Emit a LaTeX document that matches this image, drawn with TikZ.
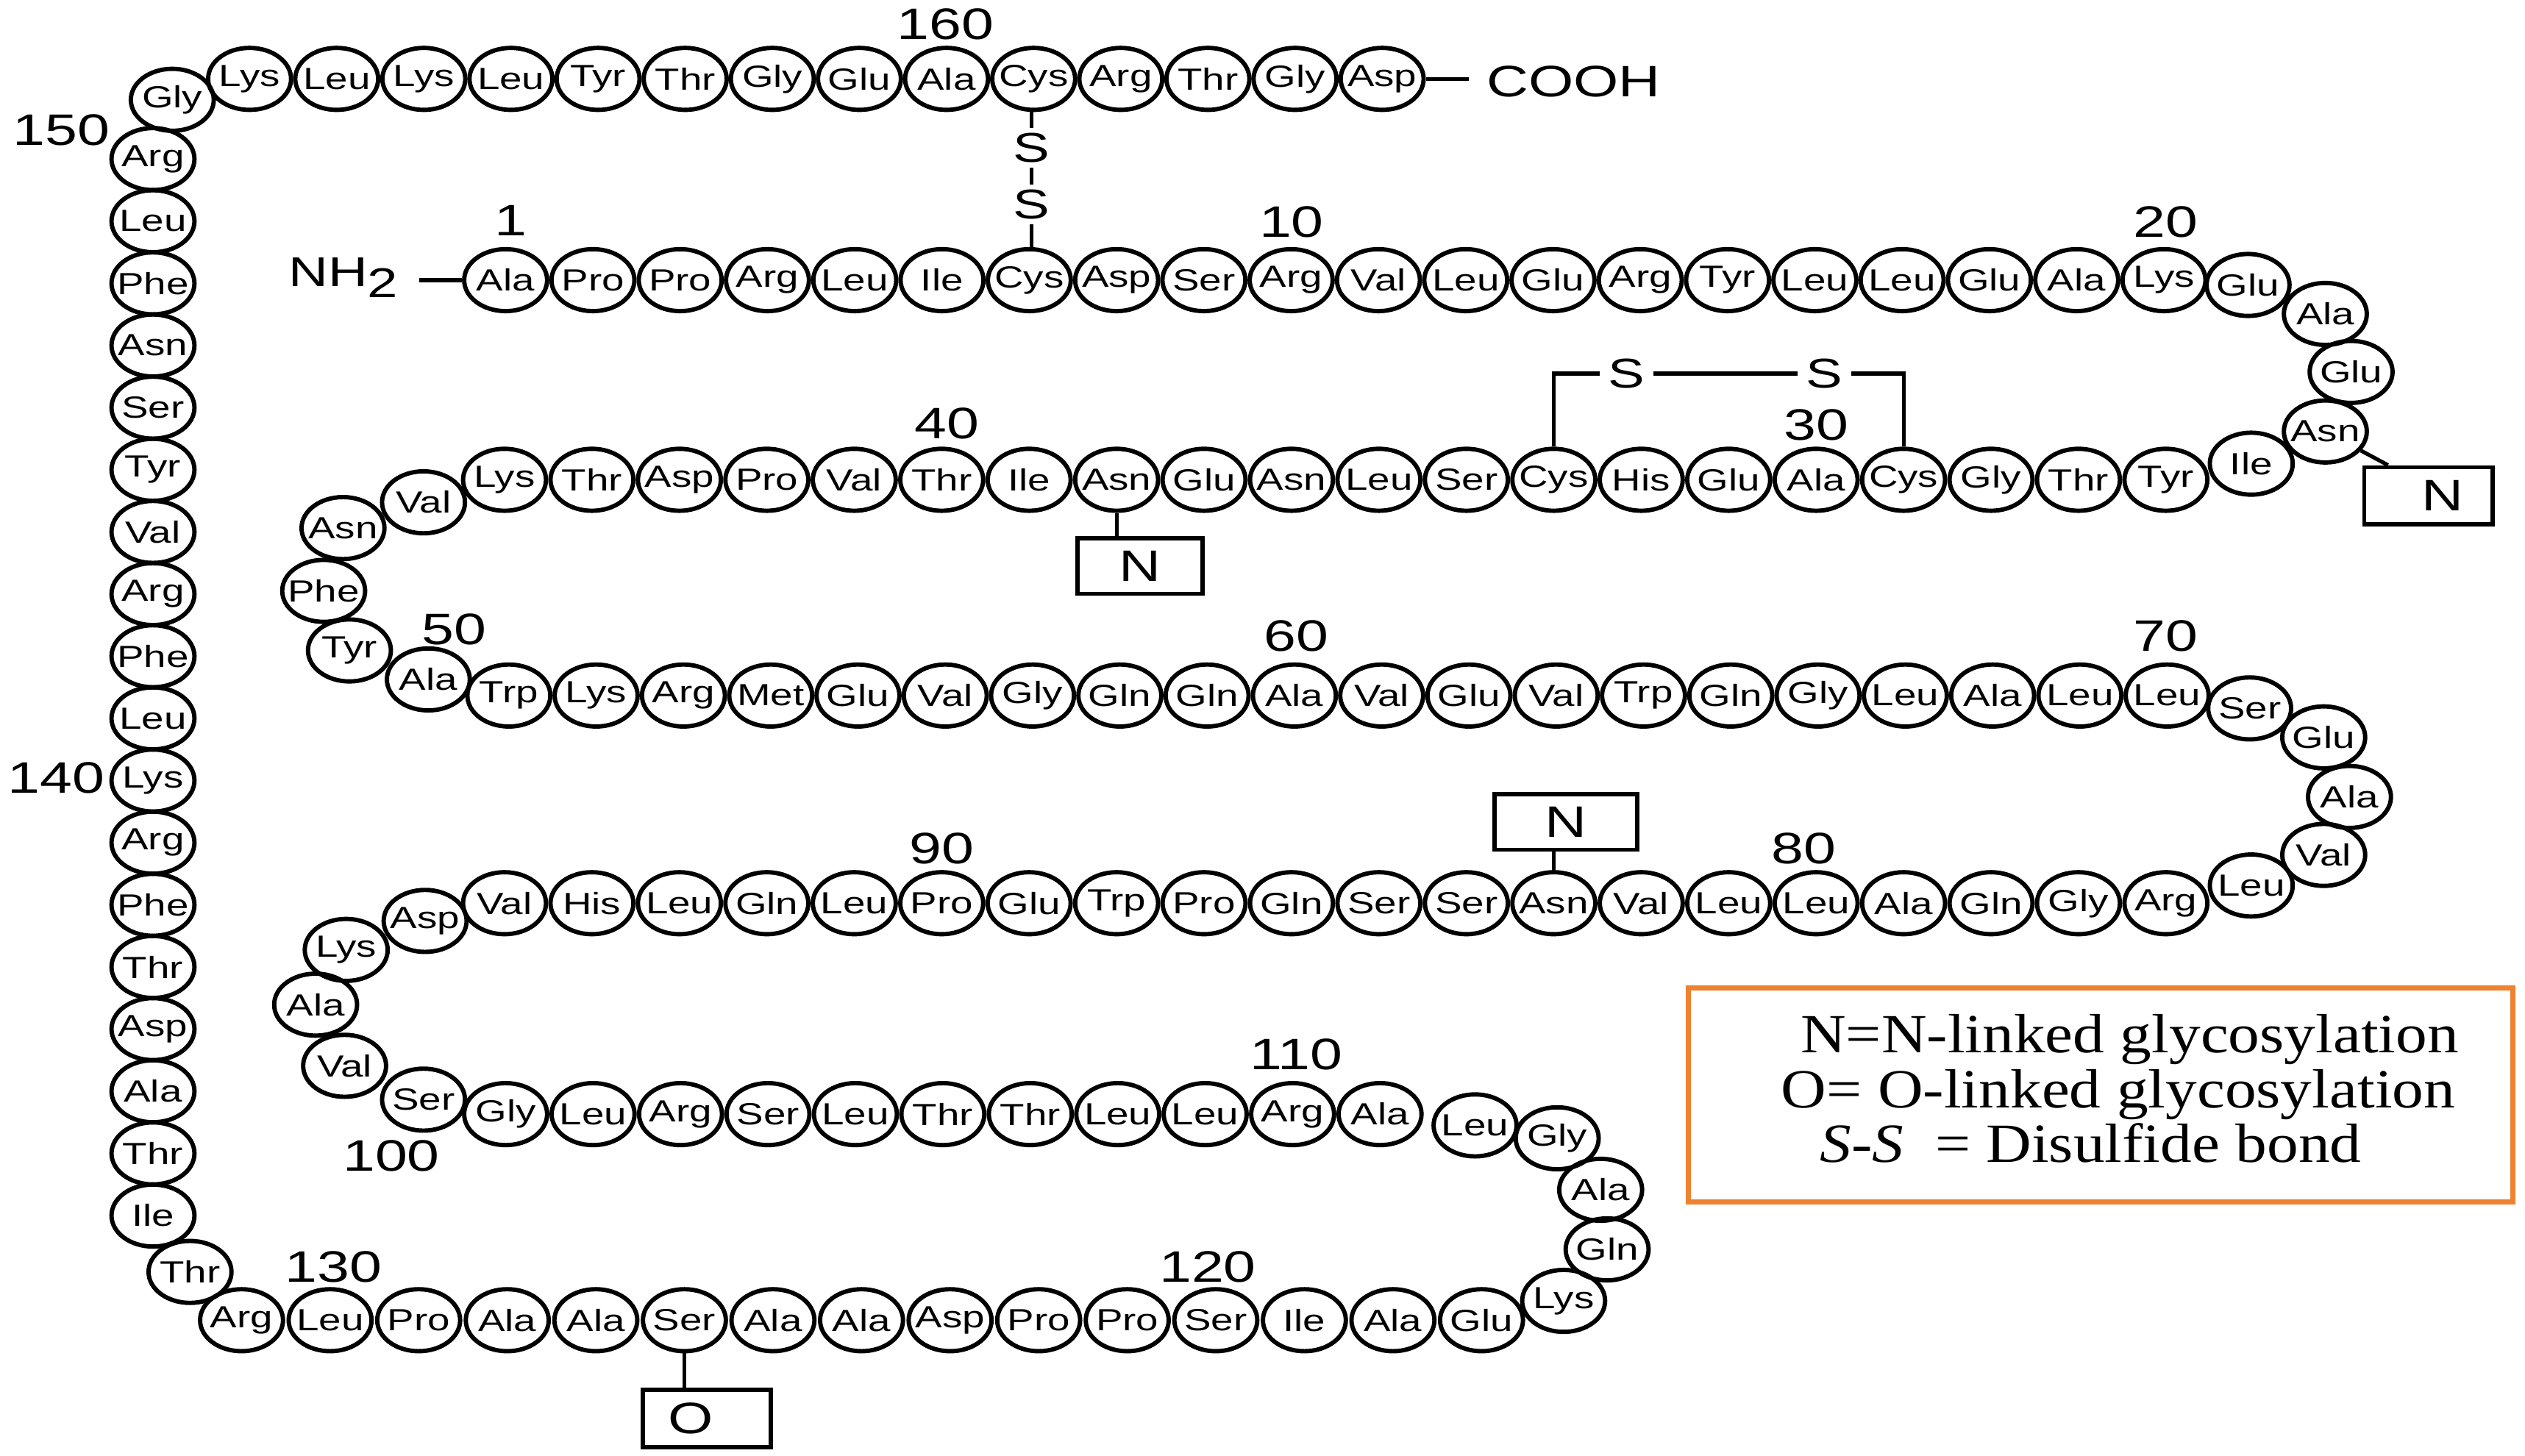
\documentclass[tikz,border=0pt]{standalone}
\usepackage{fontspec}
\usepackage{graphicx}
\setmainfont{Liberation Sans}
\newfontfamily\legserif{Liberation Serif}
\usetikzlibrary{shapes.geometric}
\definecolor{legor}{RGB}{238,130,48}
\newcommand{\sqz}[1]{\scalebox{1}[0.76]{#1}}
\newcommand{\sqleg}[1]{\scalebox{1}[0.88]{#1}}
\newcommand{\aat}[1]{\makebox[0pt]{\sqz{#1}}}
\begin{document}
\begin{tikzpicture}[x=1pt, y=-1pt,
  aa/.style={ellipse, draw, line width=2.7pt, minimum width=51.5pt, minimum height=38.5pt, inner sep=0pt, font=\fontsize{25}{29}\selectfont},
  numlab/.style={inner sep=0pt, font=\fontsize{36}{40}\selectfont},
  sulf/.style={inner xsep=5pt, inner ysep=3pt, font=\fontsize{34}{38}\selectfont},
  gbox/.style={draw, line width=2.6pt, inner sep=0pt, font=\fontsize{36}{40}\selectfont},
  bond/.style={line width=2.4pt},
  legt/.style={inner sep=0pt, font=\legserif\fontsize{39}{44}\selectfont},
  term/.style={inner ysep=0pt, font=\fontsize{34}{38}\selectfont}]
\fill[white] (0,0) rectangle (1568,904);
\useasboundingbox (0,0) rectangle (1568,904);

% row 1: 1-20
\foreach \n [count=\k from 0] in {Ala,Pro,Pro,Arg,Leu,Ile,Cys,Asp,Ser,Arg,Val,Leu,Glu,Arg,Tyr,Leu,Leu,Glu,Ala,Lys}{
  \pgfmathtruncatemacro\i{\k+1}
  \node[aa] (a\i) at ({314+54.2*\k},174) {\aat{\n}};
}
\node[aa] (a21) at (1396,177) {\aat{Glu}};
\node[aa] (a22) at (1444,195) {\aat{Ala}};
\node[aa] (a23) at (1460,231) {\aat{Glu}};
\node[aa] (a24) at (1444,268) {\aat{Asn}};
\node[aa] (a25) at (1398,288) {\aat{Ile}};
% row 2: 26-45
\foreach \n [count=\k from 0] in {Tyr,Thr,Gly,Cys,Ala,Glu,His,Cys,Ser,Leu,Asn,Glu,Asn,Ile,Thr,Val,Pro,Asp,Thr,Lys}{
  \pgfmathtruncatemacro\i{\k+26}
  \node[aa] (a\i) at ({1345-54.3*\k},298) {\aat{\n}};
}
\node[aa] (a46) at (263,312) {\aat{Val}};
\node[aa] (a47) at (213,328) {\aat{Asn}};
\node[aa] (a48) at (201,367) {\aat{Phe}};
\node[aa] (a49) at (217,404) {\aat{Tyr}};
\node[aa] (a50) at (266,422) {\aat{Ala}};
% row 3: 51-70
\foreach \n [count=\k from 0] in {Trp,Lys,Arg,Met,Glu,Val,Gly,Gln,Gln,Ala,Val,Glu,Val,Trp,Gln,Gly,Leu,Ala,Leu,Leu}{
  \pgfmathtruncatemacro\i{\k+51}
  \node[aa] (a\i) at ({316+54.2*\k},432) {\aat{\n}};
}
\node[aa] (a71) at (1397,440) {\aat{Ser}};
\node[aa] (a72) at (1443,458) {\aat{Glu}};
\node[aa] (a73) at (1459,495) {\aat{Ala}};
\node[aa] (a74) at (1443,531) {\aat{Val}};
\node[aa] (a75) at (1398,550) {\aat{Leu}};
% row 4: 76-95
\foreach \n [count=\k from 0] in {Arg,Gly,Gln,Ala,Leu,Leu,Val,Asn,Ser,Ser,Gln,Pro,Trp,Glu,Pro,Leu,Gln,Leu,His,Val}{
  \pgfmathtruncatemacro\i{\k+76}
  \node[aa] (a\i) at ({1345-54.3*\k},561) {\aat{\n}};
}
\node[aa] (a96) at (264,572) {\aat{Asp}};
\node[aa] (a97) at (215,590) {\aat{Lys}};
\node[aa] (a98) at (196,624) {\aat{Ala}};
\node[aa] (a99) at (214,662) {\aat{Val}};
\node[aa] (a100) at (263,683) {\aat{Ser}};
% row 5: 101-111
\foreach \n [count=\k from 0] in {Gly,Leu,Arg,Ser,Leu,Thr,Thr,Leu,Leu,Arg,Ala}{
  \pgfmathtruncatemacro\i{\k+101}
  \node[aa] (a\i) at ({314+54.3*\k},692) {\aat{\n}};
}
\node[aa] (a112) at (916,699) {\aat{Leu}};
\node[aa] (a113) at (967,707) {\aat{Gly}};
\node[aa] (a114) at (994,739) {\aat{Ala}};
\node[aa] (a115) at (998,776) {\aat{Gln}};
\node[aa] (a116) at (971,808) {\aat{Lys}};
% bottom row: 117-131
\foreach \n [count=\k from 0] in {Glu,Ala,Ile,Ser,Pro,Pro,Asp,Ala,Ala,Ser,Ala,Ala,Pro,Leu,Arg}{
  \pgfmathtruncatemacro\i{\k+117}
  \node[aa] (a\i) at ({920-55*\k},820) {\aat{\n}};
}
\node[aa] (a132) at (118,790) {\aat{Thr}};
% left column: 133-150
\foreach \n [count=\k from 0] in {Ile,Thr,Ala,Asp,Thr,Phe,Arg,Lys,Leu,Phe,Arg,Val,Tyr,Ser,Asn,Phe,Leu,Arg}{
  \pgfmathtruncatemacro\i{\k+133}
  \node[aa] (a\i) at (95,{755-38.6*\k}) {\aat{\n}};
}
\node[aa] (a151) at (107,62) {\aat{Gly}};
% top row: 152-165
\foreach \n [count=\k from 0] in {Lys,Leu,Lys,Leu,Tyr,Thr,Gly,Glu,Ala,Cys,Arg,Thr,Gly,Asp}{
  \pgfmathtruncatemacro\i{\k+152}
  \node[aa] (a\i) at ({155+54.1*\k},49) {\aat{\n}};
}

% termini
\node[term, anchor=base west, inner xsep=13pt] (nh2) at (166,178) {\sqz{NH\raisebox{-9pt}{2}}};
\draw[bond] (a1.west) -- (a1.west -| nh2.east);
\node[term, anchor=base west, inner xsep=11pt, font=\fontsize{36}{40}\selectfont] (cooh) at (912,60) {\sqz{COOH}};
\draw[bond] (a165.east) -- (a165.east -| cooh.west);

% disulfide 7-161
\node[sulf] (s1) at (640.5,92) {\sqz{S}};
\node[sulf] (s2) at (640.5,127) {\sqz{S}};
\draw[bond] (s1.north) -- (s1.north |- a161.south);
\draw[bond] (s1.south) -- (s2.north);
\draw[bond] (s2.south) -- (s2.south |- a7.north);
% disulfide 29-33
\node[sulf] (s3) at (1010,232) {\sqz{S}};
\node[sulf] (s4) at (1133,232) {\sqz{S}};
\draw[bond] (a33.north) |- (s3.west);
\draw[bond] (s3.east) -- (s4.west);
\draw[bond] (s4.east) -| (a29.north);

% glycosylation boxes
\node[gbox, minimum width=79.6pt, minimum height=35.6pt] (b24) at (1508,308) {\hspace*{18pt}\sqz{N}};
\draw[bond] (a24) -- ([xshift=16pt]b24.north west);
\node[gbox, minimum width=77.6pt, minimum height=34.6pt] (b38) at (708,351.5) {\sqz{N}};
\draw[bond] (a38.south) -- (a38.south |- b38.north);
\node[gbox, minimum width=88.6pt, minimum height=34.6pt] (b83) at (972.5,510.5) {\sqz{N}};
\draw[bond] (a83.north) -- (a83.north |- b83.south);
\node[gbox, minimum width=79.6pt, minimum height=35.6pt] (b126) at (439,881) {\sqz{O}\hspace*{20pt}};
\draw[bond] (a126.south) -- (a126.south |- b126.north);

% residue numbers
\node[numlab] (n160) at (587,15) {\sqz{160}};
\node[numlab] (n150) at (38,81) {\sqz{150}};
\node[numlab] (n140) at (35,483) {\sqz{140}};
\node[numlab] (n1) at (317,137) {\sqz{1}};
\node[numlab] (n10) at (802,138) {\sqz{10}};
\node[numlab] (n20) at (1345,138) {\sqz{20}};
\node[numlab] (n30) at (1128,264) {\sqz{30}};
\node[numlab] (n40) at (588,263) {\sqz{40}};
\node[numlab] (n50) at (282,391) {\sqz{50}};
\node[numlab] (n60) at (805,395) {\sqz{60}};
\node[numlab] (n70) at (1345,395) {\sqz{70}};
\node[numlab] (n80) at (1120,527) {\sqz{80}};
\node[numlab] (n90) at (585,527) {\sqz{90}};
\node[numlab] (n100) at (243,718) {\sqz{100}};
\node[numlab] (n110) at (805,655) {\sqz{110}};
\node[numlab] (n120) at (750,787) {\sqz{120}};
\node[numlab] (n130) at (207,787) {\sqz{130}};

% legend
\node[draw=legor, line width=3pt, minimum width=512pt, minimum height=133pt, inner sep=0pt] (leg) at (1304.5,680) {};
\node[legt, anchor=base west] (l1) at (1118,654) {\sqleg{N=N-linked glycosylation}};
\node[legt, anchor=base west] (l2) at (1106,688) {\sqleg{O= O-linked glycosylation}};
\node[legt, anchor=base west] (l3) at (1130,722) {\sqleg{\textit{S-S}\ \ = Disulfide bond}};
\end{tikzpicture}
\end{document}
